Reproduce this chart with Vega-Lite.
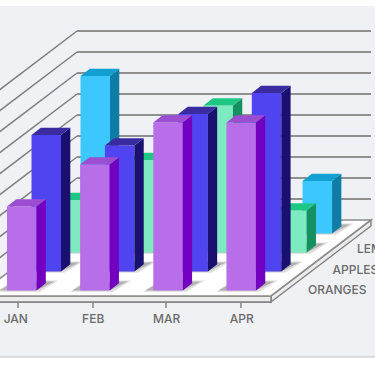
{"$schema":"https://vega.github.io/schema/vega-lite/v6.json","width":375,"height":366,"padding":0,"autosize":{"type":"none"},"background":"#ffffff","view":{"stroke":null},
"data":{"values":[
{"month":"JAN","series":"ORANGES","value":4},{"month":"FEB","series":"ORANGES","value":6},{"month":"MAR","series":"ORANGES","value":8},{"month":"APR","series":"ORANGES","value":8},
{"month":"JAN","series":"APPLES","value":6.5},{"month":"FEB","series":"APPLES","value":6},{"month":"MAR","series":"APPLES","value":7.5},{"month":"APR","series":"APPLES","value":8.5},
{"month":"JAN","series":"LEMONS","value":2.5},{"month":"FEB","series":"LEMONS","value":4.4},{"month":"MAR","series":"LEMONS","value":7},{"month":"APR","series":"LEMONS","value":2},
{"month":"JAN","series":"PEARS","value":7.5},{"month":"FEB","series":"PEARS","value":4},{"month":"MAR","series":"PEARS","value":5},{"month":"APR","series":"PEARS","value":2.5}]},
"transform":[
{"calculate":"indexof(['JAN','FEB','MAR','APR'],datum.month)","as":"md"},
{"calculate":"indexof(['ORANGES','APPLES','LEMONS','PEARS'],datum.series)","as":"dep"},
{"calculate":"[0,1]","as":"t"},{"flatten":["t"]},
{"calculate":"datum.md*(1.002+datum.dep*0.004)+datum.dep*0.3356","as":"x0"},
{"calculate":"datum.dep*0.905","as":"base"},
{"calculate":"datum.x0+0.404","as":"xR"},
{"calculate":"datum.x0+datum.t*0.1274","as":"xS"},
{"calculate":"datum.xR+datum.t*0.1274","as":"xE"},
{"calculate":"datum.base+datum.t*0.3476","as":"b"},
{"calculate":"datum.b+datum.value","as":"top"},
{"calculate":"datum.x0-0.11+datum.t*0.22","as":"sL"},
{"calculate":"datum.xR+datum.t*0.2466","as":"sR"},
{"calculate":"datum.base+datum.t*0.43","as":"sY"},
{"calculate":"datum.sL-0.03","as":"sL2"},
{"calculate":"datum.sR+0.05","as":"sR2"},
{"calculate":"datum.sY+datum.t*0.05-(1-datum.t)*0.06","as":"sY2"}],
"layer":[
{"data":{"values":[{"part":"panel"}]},"mark":{"type":"rect","color":"#f0f1f5"},"encoding":{"x":{"datum":-0.0959,"type":"quantitative","scale":{"domain":[-0.0959,5.0411]},"axis":null},"x2":{"datum":5.0411},"y":{"datum":13.548,"type":"quantitative","scale":{"domain":[-3.5952,13.8333]},"axis":null},"y2":{"datum":-3.119}}},
{"data":{"values":[{"part":"panel"}]},"mark":{"type":"rule","color":"#d9d9dc","strokeWidth":2},"encoding":{"x":{"datum":-0.0959,"type":"quantitative","scale":{"domain":[-0.0959,5.0411]},"axis":null},"x2":{"datum":5.0411},"y":{"datum":-3.16,"type":"quantitative","scale":{"domain":[-3.5952,13.8333]},"axis":null}}},
{"data":{"values":[{"level":1},{"level":2},{"level":3},{"level":4},{"level":5},{"level":6},{"level":7},{"level":8},{"level":9}]},
"transform":[{"calculate":"3.357+datum.level","as":"wy"},{"calculate":"datum.level-0.262","as":"fy"}],
"layer":[
{"mark":{"type":"rule","color":"#909090","strokeWidth":2},"encoding":{"x":{"datum":0.959,"type":"quantitative","scale":{"domain":[-0.0959,5.0411]},"axis":null},"x2":{"datum":4.986},"y":{"field":"wy","type":"quantitative","scale":{"domain":[-3.5952,13.8333]},"axis":null}}},
{"mark":{"type":"rule","color":"#808080","strokeWidth":1.5},"encoding":{"x":{"datum":0.959,"type":"quantitative","scale":{"domain":[-0.0959,5.0411]},"axis":null},"x2":{"datum":-0.411},"y":{"field":"wy","type":"quantitative","scale":{"domain":[-3.5952,13.8333]},"axis":null},"y2":{"field":"fy"}}}]},
{"data":{"values":[{"t":0},{"t":1}]},
"transform":[{"calculate":"-0.548+datum.t*3.619","as":"lo"},{"calculate":"-0.262+datum.t*3.619","as":"hi"},{"calculate":"3.616+datum.t*1.37","as":"xr"},{"calculate":"-0.411+datum.t*1.37","as":"xl"}],
"layer":[
{"mark":{"type":"area","color":"#ebebeb","stroke":"#808080","strokeWidth":1.4},"encoding":{"x":{"field":"xr","type":"quantitative","scale":{"domain":[-0.0959,5.0411]},"axis":null},"y":{"field":"lo","type":"quantitative","scale":{"domain":[-3.5952,13.8333]},"axis":null},"y2":{"field":"hi"}}},
{"mark":{"type":"rect","color":"#ebebeb","stroke":"#808080","strokeWidth":1.4},"encoding":{"x":{"datum":-0.411,"type":"quantitative","scale":{"domain":[-0.0959,5.0411]},"axis":null},"x2":{"datum":3.616},"y":{"datum":-0.262,"type":"quantitative","scale":{"domain":[-3.5952,13.8333]},"axis":null},"y2":{"datum":-0.548}}},
{"mark":{"type":"area","orient":"horizontal","color":"#ffffff","stroke":"#8c8c8c","strokeWidth":1.6},"encoding":{"y":{"field":"hi","type":"quantitative","scale":{"domain":[-3.5952,13.8333]},"axis":null},"x":{"field":"xl","type":"quantitative","scale":{"domain":[-0.0959,5.0411]},"axis":null},"x2":{"field":"xr"}}}]},
{"transform":[{"filter":"datum.dep>=0"}],"layer":[
{"mark":{"type":"area","orient":"horizontal","color":"#dedede"},"encoding":{"y":{"field":"sY2","type":"quantitative","scale":{"domain":[-3.5952,13.8333]},"axis":null},"x":{"field":"sL2","type":"quantitative","scale":{"domain":[-0.0959,5.0411]},"axis":null},"x2":{"field":"sR2"},"detail":[{"field":"month"},{"field":"series"}]}},
{"mark":{"type":"area","orient":"horizontal","color":"#b0b0b0"},"encoding":{"y":{"field":"sY","type":"quantitative","scale":{"domain":[-3.5952,13.8333]},"axis":null},"x":{"field":"sL","type":"quantitative","scale":{"domain":[-0.0959,5.0411]},"axis":null},"x2":{"field":"sR"},"detail":[{"field":"month"},{"field":"series"}]}}]},
{"transform":[{"filter":"datum.dep==3"}],"layer":[
{"transform":[{"filter":"datum.t==0"}],"mark":{"type":"rect","color":"#3cc8ff"},"encoding":{"x":{"field":"x0","type":"quantitative","scale":{"domain":[-0.0959,5.0411]},"axis":null},"x2":{"field":"xR"},"y":{"field":"b","type":"quantitative","scale":{"domain":[-3.5952,13.8333]},"axis":null},"y2":{"field":"top"}}},
{"mark":{"type":"area","color":"#0f7ca6"},"encoding":{"x":{"field":"xE","type":"quantitative","scale":{"domain":[-0.0959,5.0411]},"axis":null},"y":{"field":"b","type":"quantitative","scale":{"domain":[-3.5952,13.8333]},"axis":null},"y2":{"field":"top"},"detail":{"field":"month"}}},
{"mark":{"type":"area","orient":"horizontal","color":"#12a0d0"},"encoding":{"y":{"field":"top","type":"quantitative","scale":{"domain":[-3.5952,13.8333]},"axis":null},"x":{"field":"xS","type":"quantitative","scale":{"domain":[-0.0959,5.0411]},"axis":null},"x2":{"field":"xE"},"detail":{"field":"month"}}}]},
{"transform":[{"filter":"datum.dep==2"}],"layer":[
{"transform":[{"filter":"datum.t==0"}],"mark":{"type":"rect","color":"#7deabf"},"encoding":{"x":{"field":"x0","type":"quantitative","scale":{"domain":[-0.0959,5.0411]},"axis":null},"x2":{"field":"xR"},"y":{"field":"b","type":"quantitative","scale":{"domain":[-3.5952,13.8333]},"axis":null},"y2":{"field":"top"}}},
{"mark":{"type":"area","color":"#169060"},"encoding":{"x":{"field":"xE","type":"quantitative","scale":{"domain":[-0.0959,5.0411]},"axis":null},"y":{"field":"b","type":"quantitative","scale":{"domain":[-3.5952,13.8333]},"axis":null},"y2":{"field":"top"},"detail":{"field":"month"}}},
{"mark":{"type":"area","orient":"horizontal","color":"#1ec884"},"encoding":{"y":{"field":"top","type":"quantitative","scale":{"domain":[-3.5952,13.8333]},"axis":null},"x":{"field":"xS","type":"quantitative","scale":{"domain":[-0.0959,5.0411]},"axis":null},"x2":{"field":"xE"},"detail":{"field":"month"}}}]},
{"transform":[{"filter":"datum.dep==1"}],"layer":[
{"transform":[{"filter":"datum.t==0"}],"mark":{"type":"rect","color":"#5044f0"},"encoding":{"x":{"field":"x0","type":"quantitative","scale":{"domain":[-0.0959,5.0411]},"axis":null},"x2":{"field":"xR"},"y":{"field":"b","type":"quantitative","scale":{"domain":[-3.5952,13.8333]},"axis":null},"y2":{"field":"top"}}},
{"mark":{"type":"area","color":"#1a1070"},"encoding":{"x":{"field":"xE","type":"quantitative","scale":{"domain":[-0.0959,5.0411]},"axis":null},"y":{"field":"b","type":"quantitative","scale":{"domain":[-3.5952,13.8333]},"axis":null},"y2":{"field":"top"},"detail":{"field":"month"}}},
{"mark":{"type":"area","orient":"horizontal","color":"#3a2ba0"},"encoding":{"y":{"field":"top","type":"quantitative","scale":{"domain":[-3.5952,13.8333]},"axis":null},"x":{"field":"xS","type":"quantitative","scale":{"domain":[-0.0959,5.0411]},"axis":null},"x2":{"field":"xE"},"detail":{"field":"month"}}}]},
{"transform":[{"filter":"datum.dep==0"}],"layer":[
{"transform":[{"filter":"datum.t==0"}],"mark":{"type":"rect","color":"#b86ee8"},"encoding":{"x":{"field":"x0","type":"quantitative","scale":{"domain":[-0.0959,5.0411]},"axis":null},"x2":{"field":"xR"},"y":{"field":"b","type":"quantitative","scale":{"domain":[-3.5952,13.8333]},"axis":null},"y2":{"field":"top"}}},
{"mark":{"type":"area","color":"#7300c0"},"encoding":{"x":{"field":"xE","type":"quantitative","scale":{"domain":[-0.0959,5.0411]},"axis":null},"y":{"field":"b","type":"quantitative","scale":{"domain":[-3.5952,13.8333]},"axis":null},"y2":{"field":"top"},"detail":{"field":"month"}}},
{"mark":{"type":"area","orient":"horizontal","color":"#9c4ed2"},"encoding":{"y":{"field":"top","type":"quantitative","scale":{"domain":[-3.5952,13.8333]},"axis":null},"x":{"field":"xS","type":"quantitative","scale":{"domain":[-0.0959,5.0411]},"axis":null},"x2":{"field":"xE"},"detail":{"field":"month"}}}]},
{"data":{"values":[{"month":"JAN","tick":0.1507,"lab":0.1205},{"month":"FEB","tick":1.178,"lab":1.181},{"month":"MAR","tick":2.178,"lab":2.188},{"month":"APR","tick":3.205,"lab":3.215}]},
"layer":[
{"mark":{"type":"rule","color":"#808080","strokeWidth":1.4},"encoding":{"x":{"field":"tick","type":"quantitative","scale":{"domain":[-0.0959,5.0411]},"axis":null},"y":{"datum":-0.548,"type":"quantitative","scale":{"domain":[-3.5952,13.8333]},"axis":null},"y2":{"datum":-0.833}}},
{"mark":{"type":"text","font":"Inter","fontSize":12,"fontWeight":500,"color":"#6a6a6a","align":"center","baseline":"middle"},"encoding":{"x":{"field":"lab","type":"quantitative","scale":{"domain":[-0.0959,5.0411]},"axis":null},"y":{"datum":-1.357,"type":"quantitative","scale":{"domain":[-3.5952,13.8333]},"axis":null},"text":{"field":"month"}}}]},
{"data":{"values":[{"series":"ORANGES","d":0},{"series":"APPLES","d":1},{"series":"LEMONS","d":2}]},
"transform":[{"calculate":"4.123+datum.d*0.3356","as":"lx"},{"calculate":"0.024+datum.d*0.976","as":"ly"}],
"mark":{"type":"text","font":"Inter","fontSize":12,"fontWeight":500,"color":"#6a6a6a","align":"left","baseline":"middle"},"encoding":{"x":{"field":"lx","type":"quantitative","scale":{"domain":[-0.0959,5.0411]},"axis":null},"y":{"field":"ly","type":"quantitative","scale":{"domain":[-3.5952,13.8333]},"axis":null},"text":{"field":"series"}}}
]}
